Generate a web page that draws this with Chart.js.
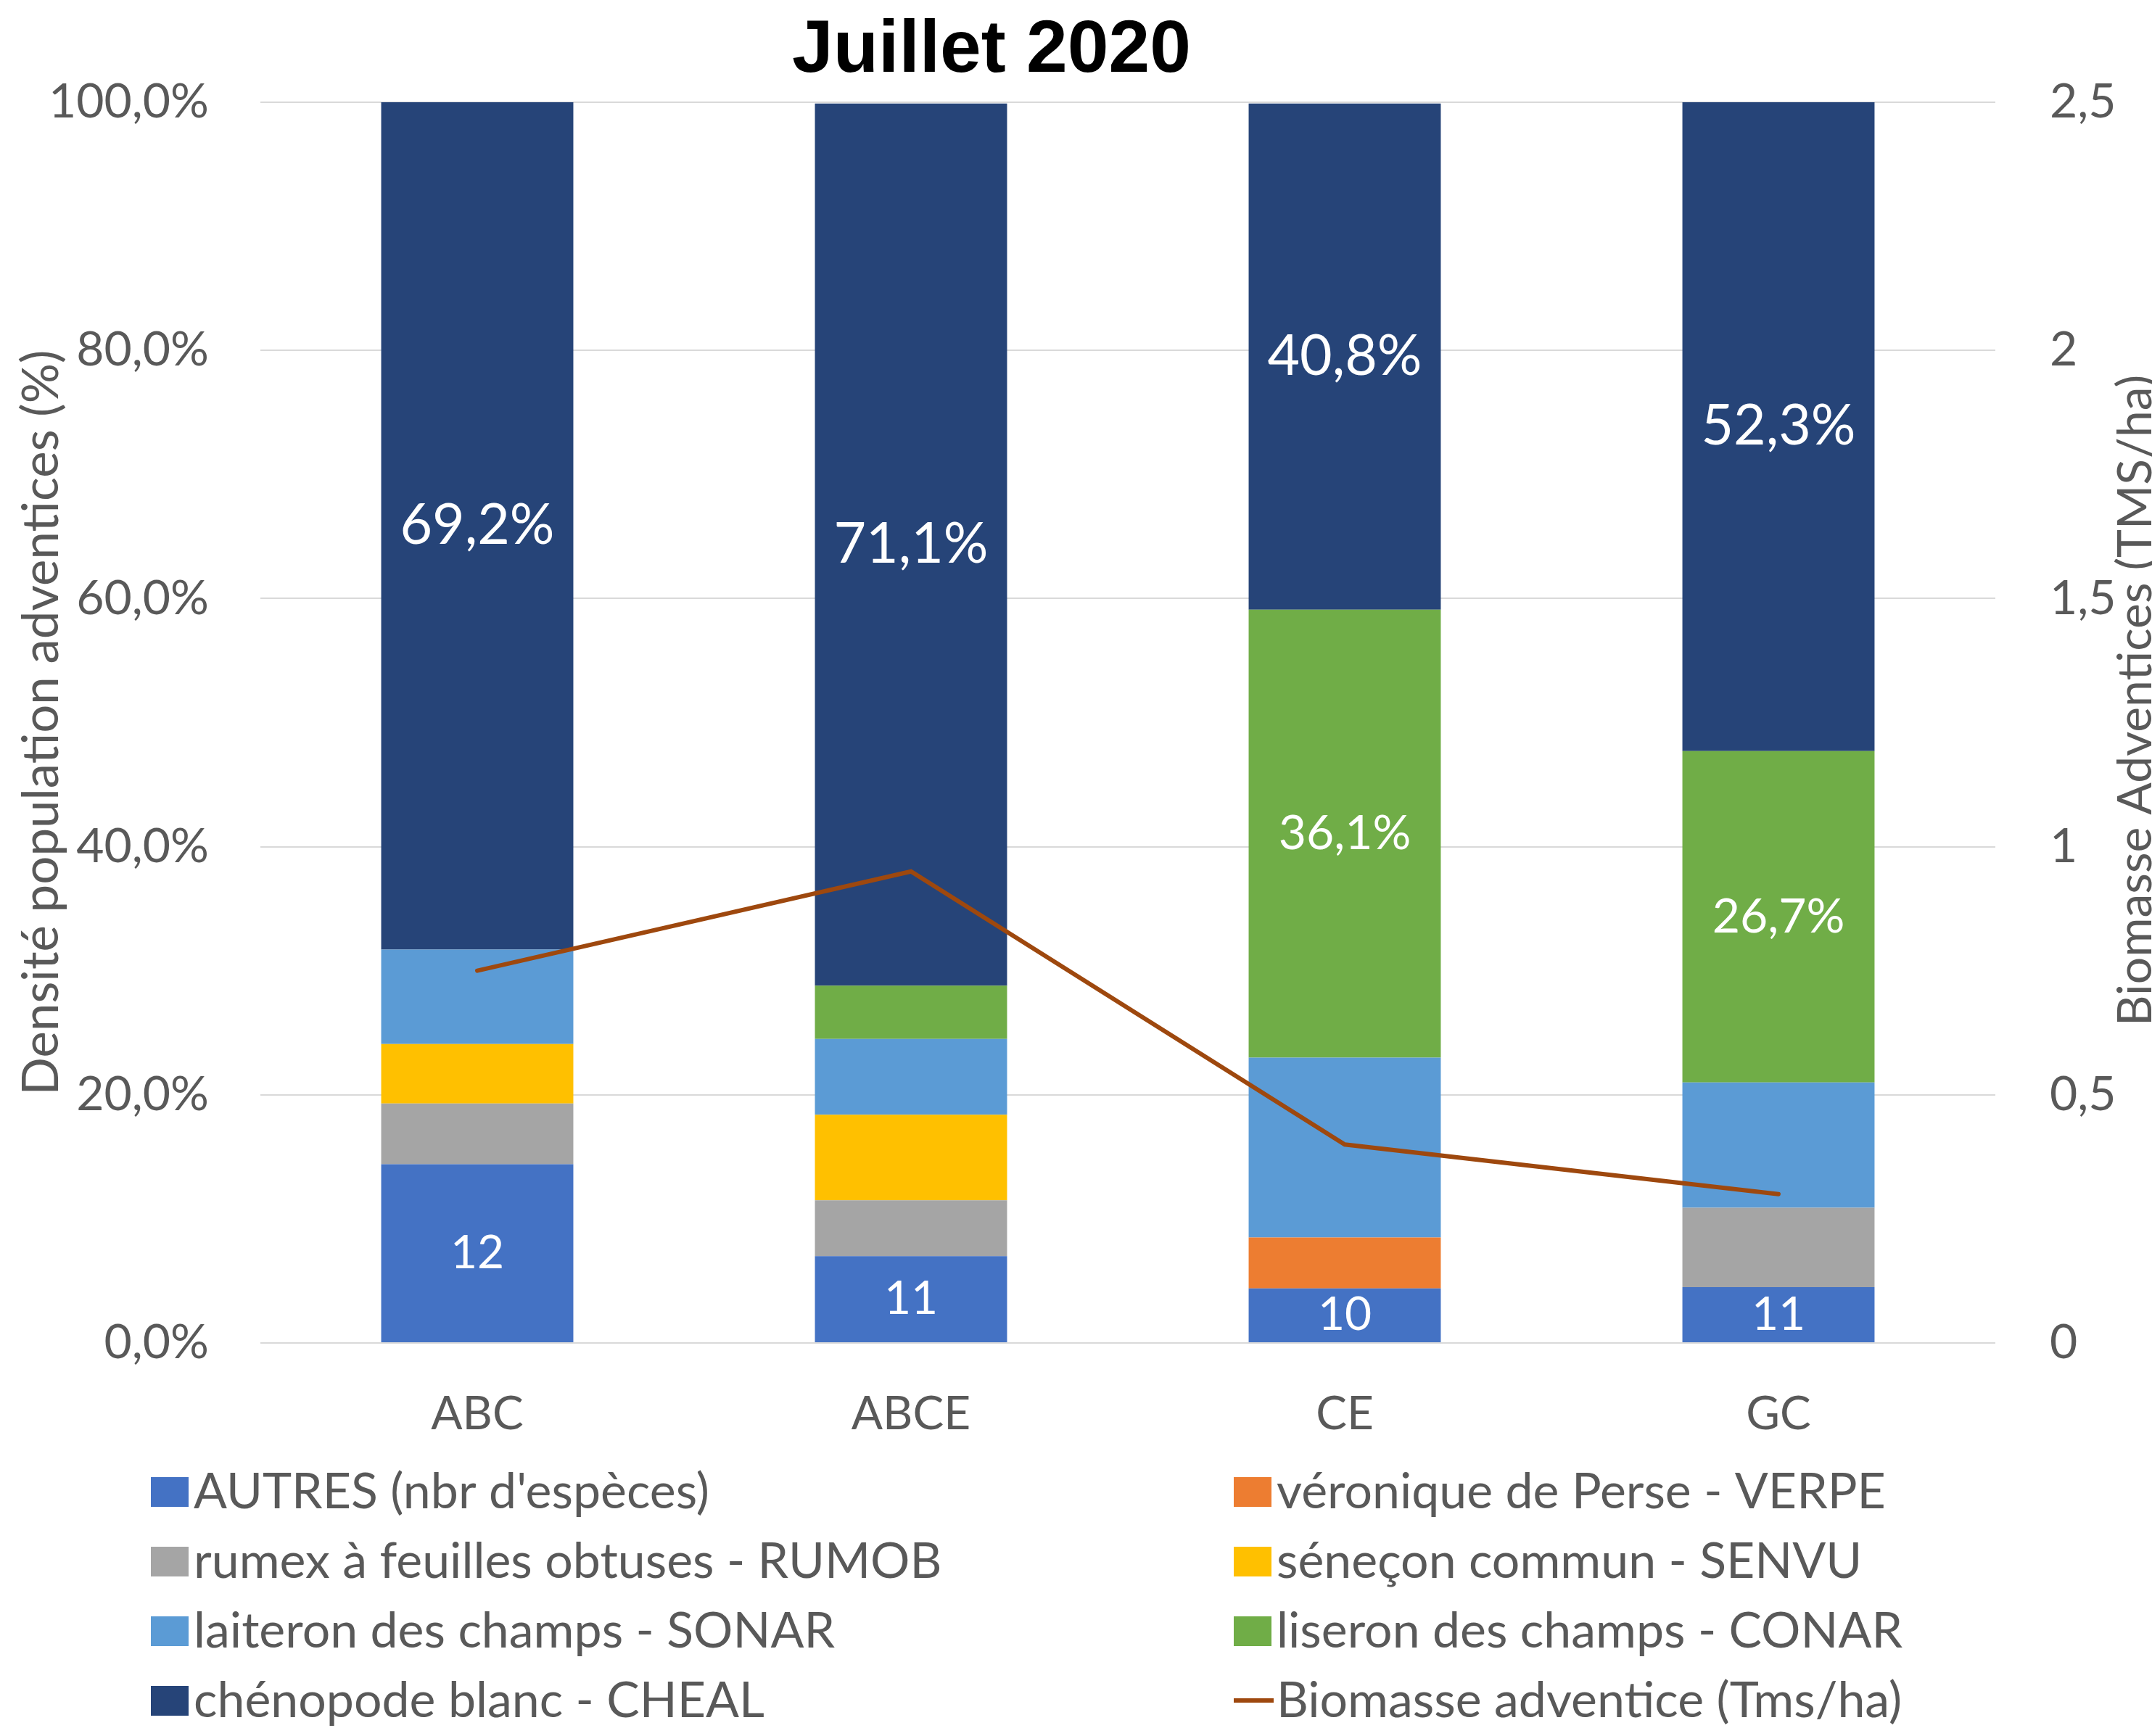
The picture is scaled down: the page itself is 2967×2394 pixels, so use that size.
<!DOCTYPE html>
<html><head><meta charset="utf-8">
<script src="https://cdn.jsdelivr.net/npm/chart.js@4.4.1/dist/chart.umd.min.js"></script>
<style>html,body{margin:0;padding:0;background:#fff;}canvas{display:block;}</style>
</head><body>
<canvas id="c" width="2967" height="2394"></canvas>
<script>
// ---- data ----
const categories = ['ABC', 'ABCE', 'CE', 'GC'];
const autres  = [14.4, 7.0, 4.4, 4.5];
const verpe   = [0, 0, 4.1, 0];
const rumob   = [4.9, 4.5, 0, 6.4];
const senvu   = [4.8, 6.9, 0, 0];
const sonar   = [7.6, 6.1, 14.5, 10.1];
const conar   = [0, 4.3, 36.1, 26.7];
const cheal   = [69.2, 71.1, 40.8, 52.3];
const biomasse = [0.75, 0.95, 0.40, 0.30];
const autresLabels = ['12', '11', '10', '11'];
const conarLabels  = ['', '', '36,1%', '26,7%'];
const chealLabels  = ['69,2%', '71,1%', '40,8%', '52,3%'];
const leftTickLabels  = ['0,0%', '20,0%', '40,0%', '60,0%', '80,0%', '100,0%'];
const rightTickLabels = ['0', '0,5', '1', '1,5', '2', '2,5'];
const seriesNames = ["AUTRES (nbr d'espèces)", 'véronique de Perse - VERPE', 'rumex à feuilles obtuses - RUMOB',
  'séneçon commun - SENVU', 'laiteron des champs - SONAR', 'liseron des champs - CONAR',
  'chénopode blanc - CHEAL', 'Biomasse adventice (Tms/ha)'];
const titleText = 'Juillet 2020';
const leftAxisTitle = 'Densité population adventices (%)';
const rightAxisTitle = 'Biomasse Adventices (TMS/ha)';

const colors = ['#4472C4', '#ED7D31', '#A5A5A5', '#FFC000', '#5B9BD5', '#70AD47', '#264478'];
const lineColor = '#9E480E';
const FONT = 'Lato, "Open Sans", sans-serif';
const GREY = '#595959';

const barSeries = [autres, verpe, rumob, senvu, sonar, conar, cheal];
const datasets = barSeries.map((d, i) => ({
  type: 'bar', label: seriesNames[i], data: d, backgroundColor: colors[i],
  borderWidth: 0, stack: 's', yAxisID: 'y', order: 1,
  barPercentage: 0.443, categoryPercentage: 1.0
}));
datasets.push({
  type: 'line', label: seriesNames[7], data: biomasse, yAxisID: 'y1',
  borderColor: lineColor, backgroundColor: lineColor, borderWidth: 6,
  pointRadius: 0, tension: 0, order: 0, borderCapStyle: 'round', borderJoinStyle: 'miter'
});

const labelSets = [
  { ds: 0, texts: autresLabels, size: 64 },
  { ds: 5, texts: conarLabels, size: 66 },
  { ds: 6, texts: chealLabels, size: 77 }
];

const overlay = {
  id: 'overlay',
  afterDatasetsDraw(chart) {
    const ctx = chart.ctx, area = chart.chartArea;
    ctx.save();
    ctx.fillStyle = '#FFFFFF';
    ctx.textAlign = 'center';
    ctx.textBaseline = 'middle';
    labelSets.forEach(ls => {
      ctx.font = ls.size + 'px ' + FONT;
      chart.getDatasetMeta(ls.ds).data.forEach((bar, i) => {
        const t = ls.texts[i];
        if (!t) return;
        const top = Math.max(Math.min(bar.y, bar.base), area.top);
        const bot = Math.min(Math.max(bar.y, bar.base), area.bottom);
        ctx.fillText(t, bar.x, (top + bot) / 2);
      });
    });
    ctx.restore();
  },
  afterDraw(chart) {
    const ctx = chart.ctx, area = chart.chartArea;
    ctx.save();
    // title
    ctx.fillStyle = '#000';
    ctx.font = 'bold 102px "Liberation Sans", Arial, sans-serif';
    ctx.textAlign = 'center';
    ctx.textBaseline = 'alphabetic';
    ctx.fillText(titleText, 1367, 99);
    // axis titles
    ctx.fillStyle = GREY;
    ctx.font = '69px ' + FONT;
    ctx.save();
    ctx.translate(80, (area.top + area.bottom) / 2);
    ctx.rotate(-Math.PI / 2);
    ctx.fillText(leftAxisTitle, 0, 0);
    ctx.restore();
    ctx.font = '66px ' + FONT;
    ctx.save();
    ctx.translate(2966, 966);
    ctx.rotate(-Math.PI / 2);
    ctx.fillText(rightAxisTitle, 0, 0);
    ctx.restore();
    // legend
    ctx.textAlign = 'left';
    ctx.font = '68px ' + FONT;
    const colBox = [208, 1701], colText = [267, 1760];
    chart.data.datasets.forEach((ds, i) => {
      const col = i % 2, row = Math.floor(i / 2);
      const base = 2080 + row * 96;
      const cy = base - 23;
      if (ds.type === 'line') {
        ctx.strokeStyle = ds.borderColor;
        ctx.lineWidth = 6;
        ctx.beginPath();
        ctx.moveTo(colBox[col], cy);
        ctx.lineTo(colBox[col] + 55, cy);
        ctx.stroke();
      } else {
        ctx.fillStyle = ds.backgroundColor;
        ctx.fillRect(colBox[col], cy - 20, 52, 41);
      }
      ctx.fillStyle = GREY;
      ctx.fillText(ds.label, colText[col], base);
    });
    ctx.restore();
  }
};

new Chart(document.getElementById('c'), {
  data: { labels: categories, datasets },
  options: {
    responsive: false, animation: false, devicePixelRatio: 1,
    layout: { padding: { top: 141, bottom: 412, left: 0, right: 0 } },
    plugins: { legend: { display: false }, tooltip: { enabled: false }, title: { display: false } },
    scales: {
      x: {
        stacked: true,
        grid: { display: false, drawTicks: false },
        border: { display: false },
        ticks: { color: GREY, font: { family: FONT, size: 64 }, padding: 60 },
        afterFit(s) { s.height = 130; }
      },
      y: {
        stacked: true, min: 0, max: 100, position: 'left',
        grid: { color: '#D9D9D9', lineWidth: 2, drawTicks: false },
        border: { display: false },
        ticks: { stepSize: 20, color: GREY, font: { family: FONT, size: 66 }, padding: 71,
          callback: (v, i) => leftTickLabels[i] },
        afterFit(s) { s.width = 359; }
      },
      y1: {
        min: 0, max: 2.5, position: 'right',
        grid: { drawOnChartArea: false, drawTicks: false },
        border: { display: false },
        ticks: { stepSize: 0.5, color: GREY, font: { family: FONT, size: 66 }, padding: 75,
          callback: (v, i) => rightTickLabels[i] },
        afterFit(s) { s.width = 216; }
      }
    }
  },
  plugins: [overlay]
});
</script>
</body></html>
